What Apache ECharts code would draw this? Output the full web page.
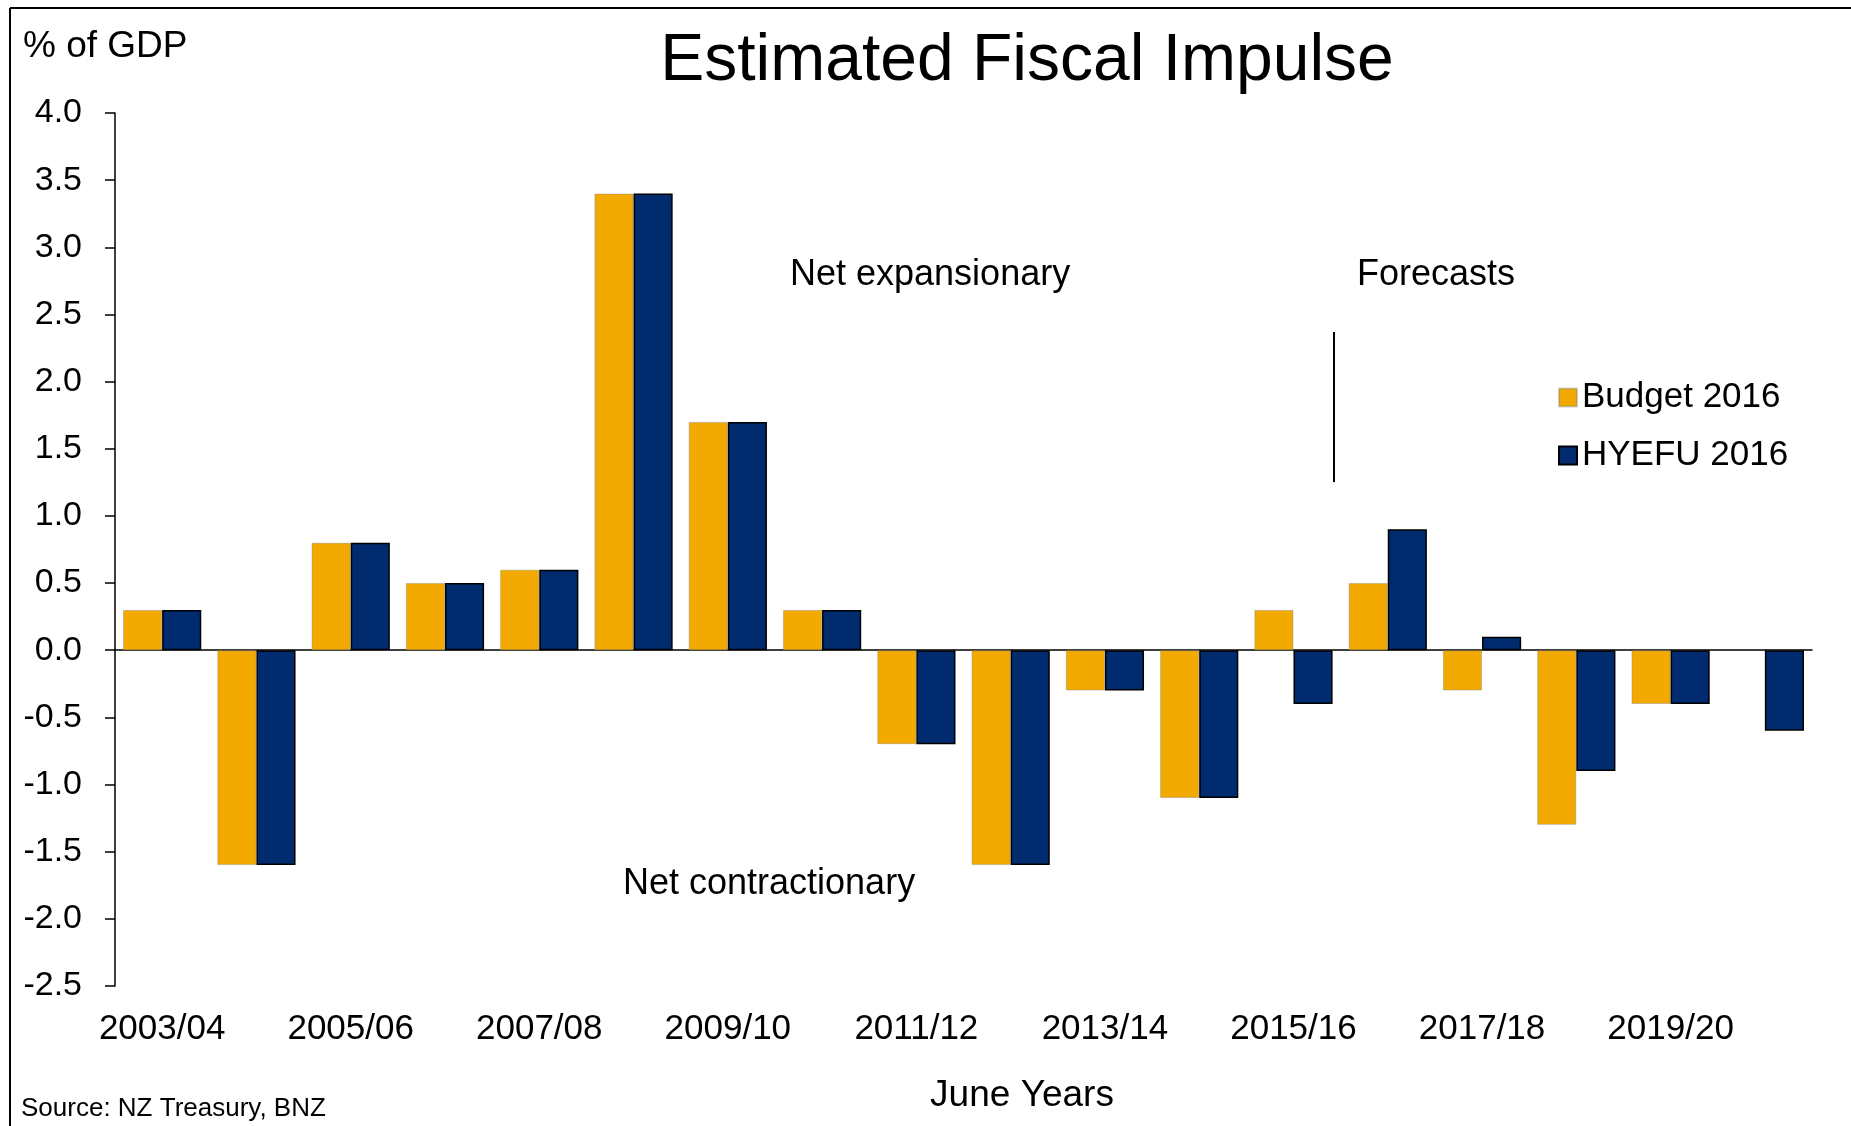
<!DOCTYPE html>
<html>
<head>
<meta charset="utf-8">
<script src="https://cdn.jsdelivr.net/npm/echarts@6/dist/echarts.min.js"></script>
<style>
html,body{margin:0;padding:0;background:#fff;}
#chart{width:1851px;height:1126px;}
</style>
</head>
<body>
<div id="chart"></div>
<script>
var categories = ['2003/04','2004/05','2005/06','2006/07','2007/08','2008/09','2009/10','2010/11','2011/12','2012/13','2013/14','2014/15','2015/16','2016/17','2017/18','2018/19','2019/20','2020/21'];
var budget2016 = [0.3,-1.6,0.8,0.5,0.6,3.4,1.7,0.3,-0.7,-1.6,-0.3,-1.1,0.3,0.5,-0.3,-1.3,-0.4,null];
var hyefu2016 = [0.3,-1.6,0.8,0.5,0.6,3.4,1.7,0.3,-0.7,-1.6,-0.3,-1.1,-0.4,0.9,0.1,-0.9,-0.4,-0.6];
var yTicks = {min:-2.5, max:4.0, interval:0.5};

var FONT = "'Liberation Sans', Arial, sans-serif";
var chart = echarts.init(document.getElementById('chart'));
var option = {
  backgroundColor:'#fff',
  animation:false,
  textStyle:{fontFamily:FONT,color:'#000'},
  grid:{left:115,right:39,top:113,bottom:140,containLabel:false},
  legend:{
    left:1553, top:375, orient:'vertical', itemWidth:18, itemHeight:18, itemGap:23,
    icon:'rect',
    textStyle:{fontFamily:FONT,fontSize:35,color:'#000'},
    data:['Budget 2016','HYEFU 2016']
  },
  xAxis:[
    {type:'category',data:categories,position:'bottom',
     axisLine:{show:false,onZero:false},axisTick:{show:false},
     axisLabel:{interval:1,fontSize:35,color:'#000',fontFamily:FONT,margin:26},
     splitLine:{show:false}},
    {type:'category',data:categories,position:'bottom',
     axisLine:{show:true,onZero:true,lineStyle:{color:'#000',width:1.5}},
     axisTick:{show:false},axisLabel:{show:false},splitLine:{show:false}}
  ],
  yAxis:{type:'value',min:yTicks.min,max:yTicks.max,interval:yTicks.interval,
    axisLine:{show:true,lineStyle:{color:'#000',width:1.5}},
    axisTick:{show:true,inside:false,length:10,lineStyle:{color:'#000',width:1.5}},
    axisLabel:{fontSize:34,color:'#000',fontFamily:FONT,margin:33,
      formatter:function(v){return v.toFixed(1);}},
    splitLine:{show:false}},
  series:[
    {name:'Budget 2016',type:'bar',data:budget2016,barGap:'0%',barCategoryGap:'17%',
     itemStyle:{color:'#F2AA00',borderColor:'rgba(120,120,120,0.35)',borderWidth:1}},
    {name:'HYEFU 2016',type:'bar',data:hyefu2016,barGap:'0%',barCategoryGap:'17%',
     itemStyle:{color:'#002B6F',borderColor:'#000',borderWidth:1.5}}
  ],
  graphic:[
    {type:'line',shape:{x1:10,y1:8,x2:1851,y2:8},style:{stroke:'#000',lineWidth:2},silent:true},
    {type:'line',shape:{x1:10,y1:8,x2:10,y2:1126},style:{stroke:'#000',lineWidth:2},silent:true},
    {type:'text',style:{text:'Estimated Fiscal Impulse',x:1027,y:62,textAlign:'center',textVerticalAlign:'middle',font:'66px '+FONT,fill:'#000'}},
    {type:'text',style:{text:'% of GDP',x:23,y:47,textAlign:'left',textVerticalAlign:'middle',font:'37px '+FONT,fill:'#000'}},
    {type:'text',style:{text:'Net expansionary',x:790,y:275,textAlign:'left',textVerticalAlign:'middle',font:'36px '+FONT,fill:'#000'}},
    {type:'text',style:{text:'Forecasts',x:1357,y:275,textAlign:'left',textVerticalAlign:'middle',font:'36px '+FONT,fill:'#000'}},
    {type:'text',style:{text:'Net contractionary',x:623,y:884,textAlign:'left',textVerticalAlign:'middle',font:'36px '+FONT,fill:'#000'}},
    {type:'text',style:{text:'June Years',x:1022,y:1096,textAlign:'center',textVerticalAlign:'middle',font:'37px '+FONT,fill:'#000'}},
    {type:'text',style:{text:'Source: NZ Treasury, BNZ',x:21,y:1109,textAlign:'left',textVerticalAlign:'middle',font:'26px '+FONT,fill:'#000'}},
    {type:'line',shape:{x1:1334,y1:332,x2:1334,y2:482},style:{stroke:'#000',lineWidth:2},silent:true}
  ]
};
chart.setOption(option);
</script>
</body>
</html>
